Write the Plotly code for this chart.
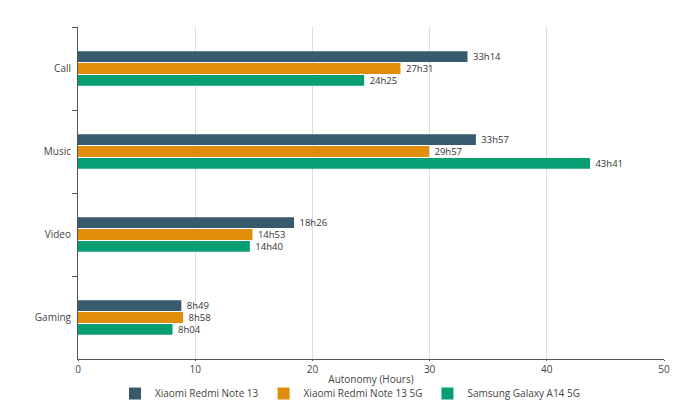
import plotly.graph_objects as go

categories = ["Call", "Music", "Video", "Gaming"]
series_names = ["Xiaomi Redmi Note 13", "Xiaomi Redmi Note 13 5G", "Samsung Galaxy A14 5G"]
redmi13 = ["33h14", "33h57", "18h26", "8h49"]
redmi13_5g = ["27h31", "29h57", "14h53", "8h58"]
galaxy_a14 = ["24h25", "43h41", "14h40", "8h04"]
colors = ["#375A6D", "#E08D0B", "#079E74"]


def to_hours(s):
    h, m = s.split("h")
    return int(h) + int(m) / 60.0


fig = go.Figure()
for name, vals, col in zip(series_names, [redmi13, redmi13_5g, galaxy_a14], colors):
    fig.add_trace(go.Bar(
        y=categories,
        x=[to_hours(v) for v in vals],
        name=name,
        orientation="h",
        marker=dict(color=col, line=dict(width=0)),
        text=vals,
        texttemplate=" %{text}",
        textposition="outside",
        constraintext="none",
        textfont=dict(size=9.5, color="#333333"),
        cliponaxis=False,
    ))

fig.update_layout(
    width=700, height=400,
    margin=dict(l=78, r=36, t=27, b=41, autoexpand=False),
    barmode="group",
    bargap=0.57,
    bargroupgap=0.08,
    plot_bgcolor="white",
    paper_bgcolor="white",
    font=dict(family="Open Sans", size=10, color="#444444"),
    legend=dict(orientation="h", x=0.5, xref="container", xanchor="center",
                y=-0.104, yanchor="middle",
                font=dict(size=10, color="#444444"), itemwidth=30,
                tracegroupgap=0),
    xaxis=dict(range=[0, 50], dtick=10, showgrid=True, gridcolor="#dddddd",
               showline=True, linecolor="#555555", ticks="outside", ticklen=1,
               tickcolor="#555555", zeroline=False, automargin=False,
               title=dict(text="Autonomy (Hours)", standoff=0, font=dict(size=10))),
    yaxis=dict(autorange="reversed", showline=True, linecolor="#555555",
               ticks="outside", tickson="boundaries", ticklen=5, tickcolor="#555555",
               showgrid=False, ticklabelstandoff=4, automargin=False),
)

fig.write_html("out.html")
